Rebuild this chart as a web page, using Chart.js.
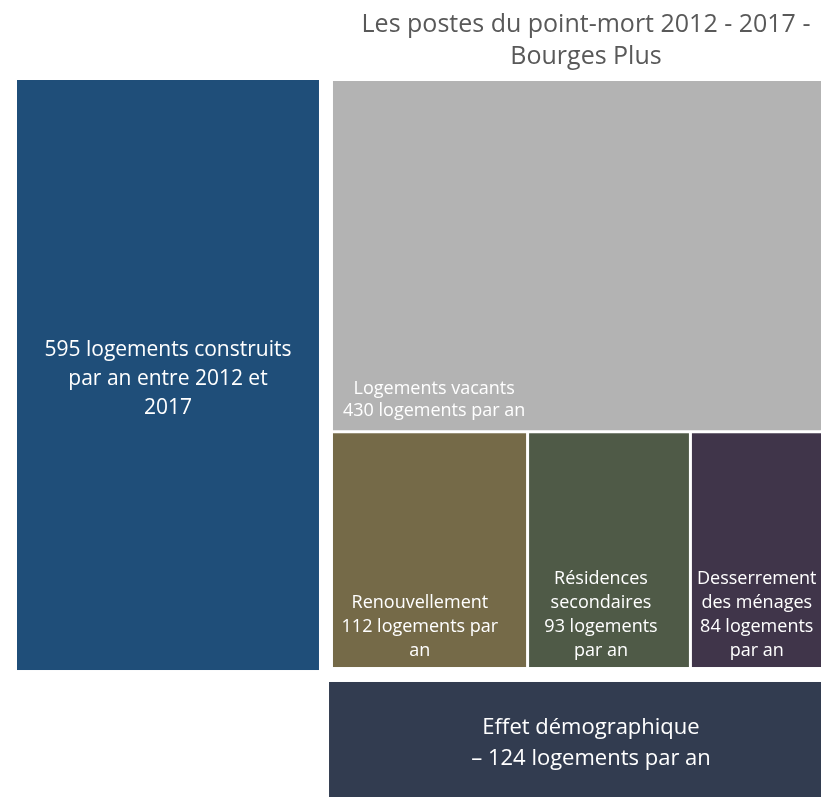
<!DOCTYPE html>
<html>
<head>
<meta charset="utf-8">
<script src="https://cdn.jsdelivr.net/npm/chart.js@4.4.0/dist/chart.umd.min.js"></script>
<style>
  html, body { margin: 0; padding: 0; background: #fff; }
  #wrap { width: 821px; height: 797px; }
</style>
</head>
<body>
<div id="wrap"><canvas id="chart" width="821" height="797"></canvas></div>
<script>
// data
const titleLines = ['Les postes du point-mort 2012 - 2017 -', 'Bourges Plus'];
const construitsValue = 595;
const postesNames = ['Logements vacants', 'Renouvellement', 'Résidences secondaires', 'Desserrement des ménages'];
const postesValues = [430, 112, 93, 84];
const effetValue = -124;

// label lines, wrapped as in the picture
const construitsLabel = [construitsValue + ' logements construits', 'par an entre 2012 et', '2017'];
const postesLabels = [
  ['Logements vacants', postesValues[0] + ' logements par an'],
  ['Renouvellement', postesValues[1] + ' logements par', 'an'],
  ['Résidences', 'secondaires', postesValues[2] + ' logements', 'par an'],
  ['Desserrement', 'des ménages', postesValues[3] + ' logements', 'par an']
];
const effetLabel = ['Effet démographique', '– ' + Math.abs(effetValue) + ' logements par an'];

const blueColor = '#1f4e79';
const postesColors = ['#b3b3b3', '#756a48', '#4f5a47', '#40354a'];
const effetColor = '#323c50';
const FONT = '"Open Sans", sans-serif';

// layout boxes, as fractions of the chart area (0..1, y downwards)
const leftBox = { x0: 0, x1: 0.3756, y0: 0, y1: 0.8229 };
const groupBox = { x0: 0.3930, x1: 1.0224, y0: 0.0014, y1: 0.8229 };
const effetBox = { x0: 0.3881, x1: 1.0398, y0: 0.8396, y1: 1.0098 };
const GAP = 3;

const drawLines = (ctx, lines, cx, cy, lineH, font, color) => {
  ctx.save();
  ctx.font = font;
  ctx.fillStyle = color;
  ctx.textAlign = 'center';
  ctx.textBaseline = 'middle';
  const top = cy - (lines.length - 1) * lineH / 2;
  lines.forEach((l, i) => ctx.fillText(l, cx, top + i * lineH));
  ctx.restore();
};

const treemapPlugin = {
  id: 'treemap',
  afterDraw(chart) {
    const { ctx, scales: { x, y } } = chart;
    const box = (b) => ({
      l: x.getPixelForValue(b.x0), r: x.getPixelForValue(b.x1),
      t: y.getPixelForValue(b.y0), b: y.getPixelForValue(b.y1)
    });
    const fill = (r, color, gap) => {
      ctx.fillStyle = color;
      ctx.fillRect(r.l, r.t, r.r - r.l - gap, r.b - r.t - gap);
    };

    // constructions, left column
    const lb = box(leftBox);
    fill(lb, blueColor, 0);
    drawLines(ctx, construitsLabel, (lb.l + lb.r) / 2, (lb.t + lb.b) / 2 + 4, 29, '21px ' + FONT, '#fff');

    // postes du point-mort: slice top, then dice the row below
    const gb = box(groupBox);
    const total = postesValues.reduce((a, b) => a + b, 0);
    const splitY = gb.t + (gb.b - gb.t) * postesValues[0] / total;
    const top = { l: gb.l, r: gb.r, t: gb.t, b: splitY };
    fill(top, postesColors[0], GAP);
    drawLines(ctx, postesLabels[0], top.l + 0.2 * (top.r - top.l), top.b - GAP - 19 - 11, 22, '18px ' + FONT, '#fff');

    const rowTotal = total - postesValues[0];
    let cx = gb.l;
    for (let i = 1; i < postesValues.length; i++) {
      const w = (gb.r - gb.l) * postesValues[i] / rowTotal;
      const cell = { l: cx, r: cx + w, t: splitY, b: gb.b };
      fill(cell, postesColors[i], GAP);
      const lines = postesLabels[i];
      const lastY = cell.b - GAP - 16;
      const midY = lastY - (lines.length - 1) * 24 / 2;
      drawLines(ctx, lines, cell.l + 0.45 * (w - GAP), midY, 24, '18px ' + FONT, '#fff');
      cx += w;
    }

    // effet démographique
    const eb = box(effetBox);
    fill(eb, effetColor, 0);
    drawLines(ctx, effetLabel, (eb.l + eb.r) / 2, (eb.t + eb.b) / 2, 31, '22px ' + FONT, '#fff');

    // title centred over the postes group
    drawLines(ctx, titleLines, (gb.l + gb.r) / 2, 41, 32, '25px ' + FONT, '#595959');
  }
};

new Chart(document.getElementById('chart'), {
  type: 'scatter',
  data: { datasets: [{ label: 'point-mort', data: [] }] },
  options: {
    responsive: false,
    animation: false,
    layout: { padding: { left: 17, top: 80, right: 0, bottom: 0 } },
    plugins: { legend: { display: false }, tooltip: { enabled: false }, title: { display: false } },
    scales: {
      x: { type: 'linear', display: false, min: 0, max: 1 },
      y: { type: 'linear', display: false, min: 0, max: 1, reverse: true }
    }
  },
  plugins: [treemapPlugin]
});
</script>
</body>
</html>
